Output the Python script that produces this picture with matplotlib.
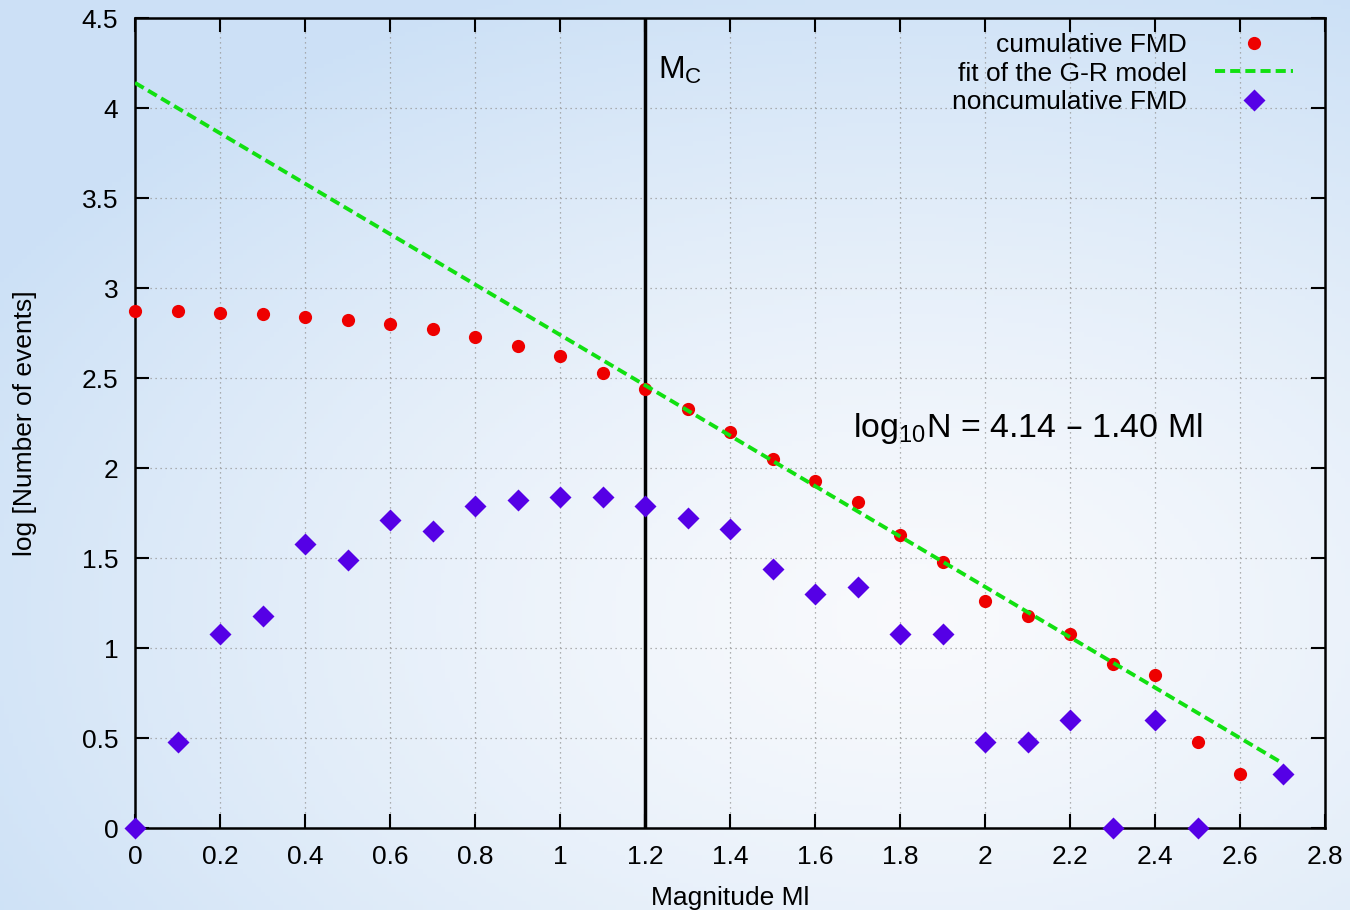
import numpy as np
import matplotlib
matplotlib.use('Agg')
import matplotlib.pyplot as plt

plt.rcParams['font.family'] = ['Liberation Sans', 'DejaVu Sans']

magnitude = [0.0, 0.1, 0.2, 0.3, 0.4, 0.5, 0.6, 0.7, 0.8, 0.9, 1.0, 1.1, 1.2, 1.3,
             1.4, 1.5, 1.6, 1.7, 1.8, 1.9, 2.0, 2.1, 2.2, 2.3, 2.4, 2.5, 2.6, 2.7]
cumulative = [2.87, 2.87, 2.86, 2.855, 2.84, 2.82, 2.80, 2.77, 2.73, 2.68, 2.62, 2.53,
              2.44, 2.33, 2.20, 2.05, 1.93, 1.81, 1.63, 1.48, 1.26, 1.18, 1.08, 0.91,
              0.85, 0.48, 0.30, 0.30]
nc_magnitude = [0.0, 0.1, 0.2, 0.3, 0.4, 0.5, 0.6, 0.7, 0.8, 0.9, 1.0, 1.1, 1.2, 1.3,
                1.4, 1.5, 1.6, 1.7, 1.8, 1.9, 2.0, 2.1, 2.2, 2.3, 2.4, 2.5, 2.7]
noncumulative = [0.0, 0.48, 1.08, 1.18, 1.58, 1.49, 1.71, 1.65, 1.79, 1.82, 1.84, 1.84,
                 1.79, 1.72, 1.66, 1.44, 1.30, 1.34, 1.08, 1.08, 0.48, 0.48, 0.60, 0.0,
                 0.60, 0.0, 0.30]
fit_a, fit_b = 4.14, 1.40
fit_range = [0.0, 2.7]
mc = 1.2

fig = plt.figure(figsize=(13.5, 9.1), dpi=100)

# light blue background, paler towards the lower right
bg = fig.add_axes([0, 0, 1, 1], zorder=-10)
yy, xx = np.mgrid[0:1:200j, 0:1:300j]
d = np.sqrt(((xx - 0.68) / 0.8) ** 2 + ((yy - 0.68) / 0.75) ** 2)
d = np.clip(d, 0, 1)
c0 = np.array([0.975, 0.98, 0.99])
c1 = np.array([0.80, 0.88, 0.965])
img = c0 + (c1 - c0) * d[..., None] ** 1.3
bg.imshow(img, aspect='auto', extent=[0, 1, 0, 1], origin='upper')
bg.axis('off')

ax = fig.add_axes([0.1, 0.0901, 0.8815, 0.8901])
ax.patch.set_alpha(0)

ax.plot(magnitude, cumulative, 'o', color='#ee0000', ms=9.5, mec='none',
        clip_on=False, zorder=4, label='cumulative FMD')
fx = np.array(fit_range)
ax.plot(fx, fit_a - fit_b * fx, color='#11e011', lw=2.8, dashes=(2.6, 1.3),
        zorder=5, label='fit of the G-R model')
ax.plot(nc_magnitude, noncumulative, 'D', color='#5500e6', ms=11, mec='none',
        clip_on=False, zorder=6, label='noncumulative FMD')
ax.axvline(mc, color='black', lw=2.5, zorder=3)

ax.text(mc + 0.03, 4.21, r'M$_\mathregular{C}$', fontsize=23, va='center', ha='left')
ax.text(1.69, 2.22, r'log$_\mathregular{10}$N = 4.14 – 1.40 Ml',
        fontsize=24.5, va='center', ha='left')

ax.set_xlim(0, 2.8)
ax.set_ylim(0, 4.5)
ax.set_xticks(np.arange(0, 2.81, 0.2))
ax.set_yticks(np.arange(0, 4.51, 0.5))
ax.set_xticklabels(['0', '0.2', '0.4', '0.6', '0.8', '1', '1.2', '1.4', '1.6', '1.8',
                    '2', '2.2', '2.4', '2.6', '2.8'])
ax.set_yticklabels(['0', '0.5', '1', '1.5', '2', '2.5', '3', '3.5', '4', '4.5'])
ax.tick_params(direction='in', length=10, width=1.5, top=True, right=True,
               labelsize=19)
ax.tick_params(axis='x', pad=12)
ax.tick_params(axis='y', pad=12)
for s in ax.spines.values():
    s.set_linewidth(1.8)
ax.grid(True, color='#999999', lw=0.9, linestyle=(0, (1, 3)))
ax.set_axisbelow(True)

ax.set_xlabel('Magnitude Ml', fontsize=19)
ax.set_ylabel('log [Number of events]', fontsize=19)
ax.xaxis.set_label_coords(0.5, -0.071)
ax.yaxis.set_label_coords(-0.082, 0.5)

leg = ax.legend(loc='upper right', bbox_to_anchor=(0.982, 0.994), frameon=False,
                markerfirst=False, fontsize=19, handlelength=2.95,
                handletextpad=1.06, labelspacing=0.16, borderaxespad=0,
                numpoints=1)

fig.savefig('out.png', dpi=100)
